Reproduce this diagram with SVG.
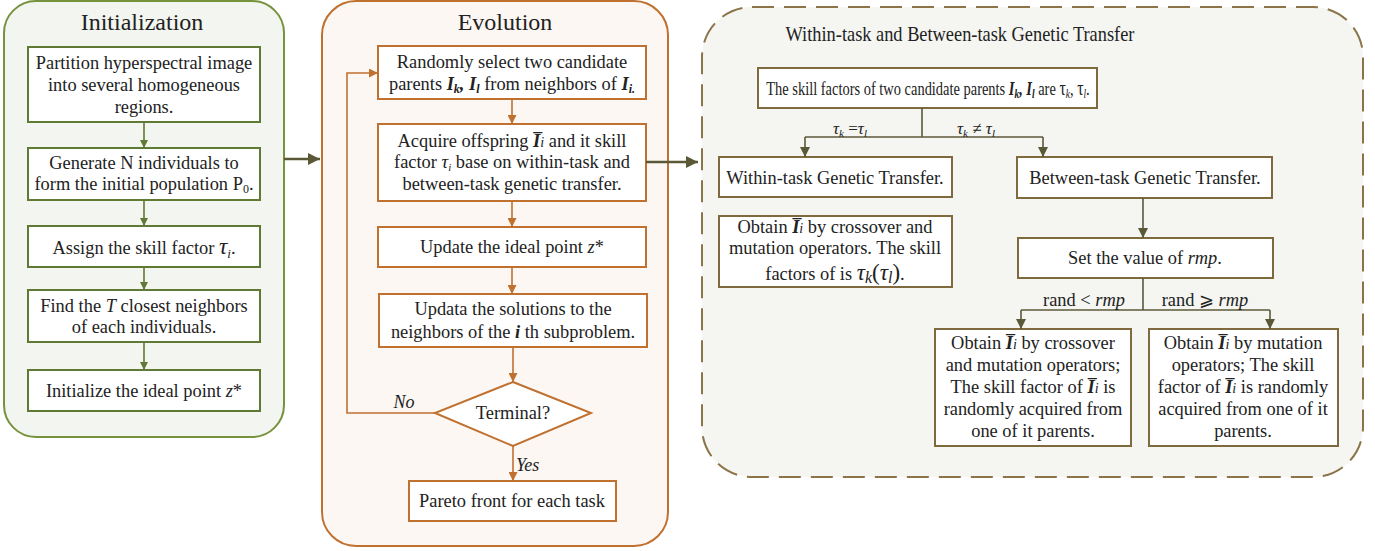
<svg xmlns="http://www.w3.org/2000/svg" width="1375" height="551" viewBox="0 0 1375 551" font-family="'Liberation Serif', 'Times New Roman', serif">
<defs>
<style>
text{font-family:'Liberation Serif','Times New Roman',serif;fill:#222;}
.t{font-size:18.4px;text-anchor:middle;}
.title{font-size:24px;text-anchor:middle;}
.bi{font-weight:bold;font-style:italic;}
.it{font-style:italic;}
.gbox{fill:#fff;stroke:#5f7a32;stroke-width:2;}
.obox{fill:#fff;stroke:#c0702f;stroke-width:2;}
.bbox{fill:#fff;stroke:#7f6a3e;stroke-width:2;}
.gl{stroke:#5f7a32;stroke-width:1.6;fill:none;}
.ol{stroke:#c0702f;stroke-width:1.6;fill:none;}
.bl{stroke:#5b5837;stroke-width:1.6;fill:none;}
.dl{stroke:#5b5837;stroke-width:2.5;fill:none;}
</style>
<marker id="ag" viewBox="0 0 10 10" refX="10" refY="5" markerWidth="8" markerHeight="8" markerUnits="userSpaceOnUse" orient="auto"><path d="M0,0L10,5L0,10z" fill="#5f7a32"/></marker>
<marker id="ao" viewBox="0 0 10 10" refX="10" refY="5" markerWidth="9" markerHeight="9" markerUnits="userSpaceOnUse" orient="auto"><path d="M0,0L10,5L0,10z" fill="#c0702f"/></marker>
<marker id="ab" viewBox="0 0 10 10" refX="10" refY="5" markerWidth="10" markerHeight="10" markerUnits="userSpaceOnUse" orient="auto"><path d="M0,0L10,5L0,10z" fill="#5b5837"/></marker>
<marker id="ad" viewBox="0 0 10 10" refX="10" refY="5" markerWidth="12" markerHeight="12" markerUnits="userSpaceOnUse" orient="auto"><path d="M0,0L10,5L0,10z" fill="#5b5837"/></marker>
</defs>

<g id="panel-init">
<rect x="4" y="1" width="280" height="436" rx="32" fill="#f3f6f0" stroke="#76923c" stroke-width="2"/>
<text class="title" x="142" y="30">Initialization</text>
</g>
<g id="panel-evo">
<rect x="322" y="1" width="346" height="545" rx="34" fill="#fcf7f3" stroke="#c0702f" stroke-width="2"/>
<text class="title" x="505" y="30">Evolution</text>
</g>
<g id="panel-transfer">
<rect x="702" y="7" width="661" height="470" rx="50" fill="#f5f6f2" stroke="#8a7448" stroke-width="2" stroke-dasharray="22,10"/>
<text class="title" transform="translate(960,41) scale(0.835,1)" x="0" y="0" style="font-size:22px">Within-task and Between-task Genetic Transfer</text>
</g>

<g id="init1"><rect class="gbox" x="28" y="47" width="232" height="75"/>
<text class="t" x="144" y="69">Partition hyperspectral image</text>
<text class="t" x="144" y="91">into several homogeneous</text>
<text class="t" x="144" y="113">regions.</text></g>
<g id="init2"><rect class="gbox" x="28" y="148" width="232" height="52"/>
<text class="t" x="144" y="169">Generate N individuals to</text>
<text class="t" x="144" y="190">form the initial population P<tspan font-size="12" dy="3">0</tspan><tspan dy="-3">.</tspan></text></g>
<g id="init3"><rect class="gbox" x="28" y="226" width="232" height="41"/>
<text class="t" x="144" y="254">Assign the skill factor <tspan class="it" font-size="23">τ</tspan><tspan class="it" font-size="13" dy="4">i</tspan><tspan dy="-4">.</tspan></text></g>
<g id="init4"><rect class="gbox" x="28" y="290" width="232" height="52"/>
<text class="t" x="144" y="312">Find the <tspan class="it">T</tspan> closest neighbors</text>
<text class="t" x="144" y="333">of each individuals.</text></g>
<g id="init5"><rect class="gbox" x="28" y="370" width="232" height="41"/>
<text class="t" x="144" y="397">Initialize the ideal point <tspan class="it">z</tspan>*</text></g>

<g id="evoA"><rect class="obox" x="378" y="46" width="268" height="53"/>
<text class="t" x="512" y="68">Randomly select two candidate</text>
<text class="t" x="512" y="90">parents <tspan class="bi">I</tspan><tspan class="bi" font-size="12" dy="3">k</tspan><tspan class="bi" dy="-3">, I</tspan><tspan class="bi" font-size="12" dy="3">l</tspan><tspan dy="-3"> from neighbors of </tspan><tspan class="bi">I</tspan><tspan class="bi" font-size="12" dy="3">i.</tspan></text></g>
<g id="evoB"><rect class="obox" x="378" y="124" width="268" height="77"/>
<text class="t" x="512" y="147">Acquire offspring <tspan class="bi">I̅</tspan><tspan class="it" font-size="14">i</tspan> and it skill</text>
<text class="t" x="512" y="168">factor <tspan class="it">τ</tspan><tspan class="it" font-size="11" dy="3">i</tspan><tspan dy="-3"> base on within-task and</tspan></text>
<text class="t" x="512" y="190">between-task genetic transfer.</text></g>
<g id="evoC"><rect class="obox" x="378" y="227" width="268" height="40"/>
<text class="t" x="512" y="253">Update the ideal point <tspan class="it">z</tspan>*</text></g>
<g id="evoD"><rect class="obox" x="379" y="294" width="268" height="53"/>
<text class="t" x="513" y="315">Updata the solutions to the</text>
<text class="t" x="513" y="338">neighbors of the <tspan class="bi">i</tspan> th subproblem.</text></g>
<g id="evoTerm"><path d="M513,382L591,413L513,446L435,413Z" fill="#fff" stroke="#c0702f" stroke-width="2"/>
<text class="t" x="513" y="419">Terminal?</text></g>
<g id="evoE"><rect class="obox" x="409" y="481" width="207" height="40"/>
<text class="t" x="512" y="507">Pareto front for each task</text></g>

<g id="tT"><rect class="bbox" x="758" y="68" width="339" height="40"/>
<text class="t" transform="translate(928,95) scale(0.785,1)" x="0" y="0">The skill factors of two candidate parents <tspan class="bi">I</tspan><tspan class="bi" font-size="12" dy="3">k</tspan><tspan class="bi" dy="-3">,  I</tspan><tspan class="bi" font-size="12" dy="3">l</tspan><tspan dy="-3">  are </tspan><tspan font-size="20">τ</tspan><tspan class="it" font-size="12" dy="3">k</tspan><tspan dy="-3">, </tspan><tspan font-size="20">τ</tspan><tspan class="it" font-size="12" dy="3">l</tspan><tspan dy="-3">.</tspan></text></g>
<g id="tW1"><rect class="bbox" x="719" y="157" width="233" height="40"/>
<text class="t" x="835" y="184">Within-task Genetic Transfer.</text></g>
<g id="tW2"><rect class="bbox" x="719" y="216" width="233" height="71"/>
<text class="t" x="835" y="233">Obtain <tspan class="bi">I̅</tspan><tspan class="it" font-size="14">i</tspan> by crossover and</text>
<text class="t" x="835" y="254">mutation operators. The skill</text>
<text class="t" x="835" y="280">factors of is <tspan class="it" font-size="23">τ</tspan><tspan class="it" font-size="16" dy="3">k</tspan><tspan font-size="23" dy="-3">(</tspan><tspan class="it" font-size="23">τ</tspan><tspan class="it" font-size="16" dy="3">l</tspan><tspan font-size="23" dy="-3">)</tspan>.</text></g>
<g id="tB1"><rect class="bbox" x="1017" y="157" width="255" height="41"/>
<text class="t" x="1145" y="184">Between-task Genetic Transfer.</text></g>
<g id="tB2"><rect class="bbox" x="1018" y="238" width="255" height="40"/>
<text class="t" x="1145" y="264">Set the value of <tspan class="it">rmp</tspan>.</text></g>
<g id="tR1"><rect class="bbox" x="935" y="329" width="196" height="117"/>
<text class="t" x="1033" y="349">Obtain <tspan class="bi">I̅</tspan><tspan class="it" font-size="14">i</tspan> by crossover</text>
<text class="t" x="1033" y="371">and mutation operators;</text>
<text class="t" x="1033" y="393">The skill factor of <tspan class="bi">I̅</tspan><tspan class="it" font-size="14">i</tspan> is</text>
<text class="t" x="1033" y="415">randomly acquired from</text>
<text class="t" x="1033" y="437">one of it parents.</text></g>
<g id="tR2"><rect class="bbox" x="1149" y="329" width="189" height="117"/>
<text class="t" x="1243" y="349">Obtain <tspan class="bi">I̅</tspan><tspan class="it" font-size="14">i</tspan> by mutation</text>
<text class="t" x="1243" y="371">operators; The skill</text>
<text class="t" x="1243" y="393">factor of <tspan class="bi">I̅</tspan><tspan class="it" font-size="14">i</tspan> is randomly</text>
<text class="t" x="1243" y="415">acquired from one of it</text>
<text class="t" x="1243" y="437">parents.</text></g>

<g id="connectors">
<path class="gl" d="M144,122V148" marker-end="url(#ag)"/>
<path class="gl" d="M144,200V226" marker-end="url(#ag)"/>
<path class="gl" d="M144,267V290" marker-end="url(#ag)"/>
<path class="gl" d="M144,342V370" marker-end="url(#ag)"/>
<path class="dl" d="M284,159H320" marker-end="url(#ad)"/>
<path class="ol" d="M512,99V124" marker-end="url(#ao)"/>
<path class="ol" d="M512,201V227" marker-end="url(#ao)"/>
<path class="ol" d="M512,267V294" marker-end="url(#ao)"/>
<path class="ol" d="M513,347V382" marker-end="url(#ao)"/>
<path class="ol" d="M513,446V481" marker-end="url(#ao)"/>
<path class="ol" d="M435,413H347V73H378" marker-end="url(#ao)"/>
<text x="404" y="408" class="it" style="font-size:18px;text-anchor:middle">No</text>
<text x="516" y="471" class="it" style="font-size:18px">Yes</text>
<path class="dl" d="M646,162H698" marker-end="url(#ad)"/>
<path class="bl" d="M922,108V137"/>
<path class="bl" d="M805,137H1043"/>
<path class="bl" d="M805,137V157" marker-end="url(#ab)"/>
<path class="bl" d="M1043,137V157" marker-end="url(#ab)"/>
<text x="850" y="134" style="font-size:17px;text-anchor:middle"><tspan class="it">τ</tspan><tspan class="it" font-size="11" dy="3">k</tspan><tspan dy="-3"> =</tspan><tspan class="it">τ</tspan><tspan class="it" font-size="11" dy="3">l</tspan></text>
<text x="976" y="134" style="font-size:17px;text-anchor:middle"><tspan class="it">τ</tspan><tspan class="it" font-size="11" dy="3">k</tspan><tspan dy="-3"> ≠ </tspan><tspan class="it">τ</tspan><tspan class="it" font-size="11" dy="3">l</tspan></text>
<path class="bl" d="M1143,198V238" marker-end="url(#ab)"/>
<path class="bl" d="M1143,278V310"/>
<path class="bl" d="M1021,310H1270"/>
<path class="bl" d="M1021,310V329" marker-end="url(#ab)"/>
<path class="bl" d="M1270,310V329" marker-end="url(#ab)"/>
<text x="1084" y="306" style="font-size:18.4px;text-anchor:middle">rand  &lt;  <tspan class="it">rmp</tspan></text>
<text x="1205" y="306" style="font-size:18.4px;text-anchor:middle">rand ⩾ <tspan class="it">rmp</tspan></text>
</g>
</svg>
